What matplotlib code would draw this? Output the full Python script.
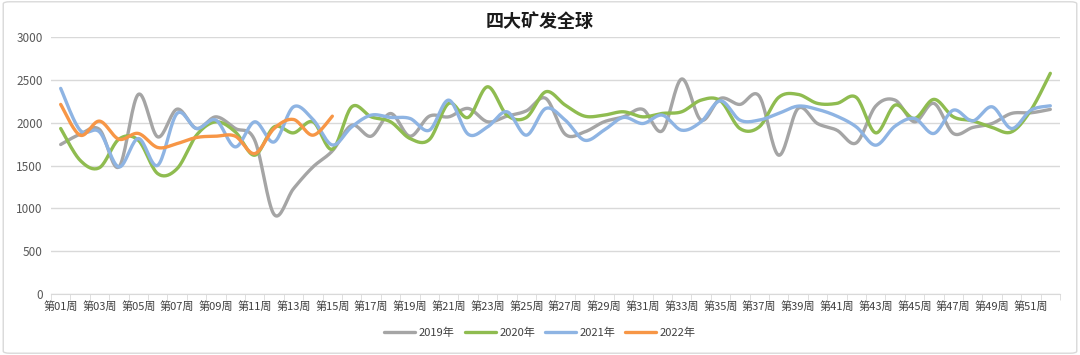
import numpy as np
import matplotlib
matplotlib.use('Agg')
import matplotlib.pyplot as plt
from matplotlib.patches import FancyBboxPatch

plt.rcParams['font.family'] = ['Noto Sans CJK SC', 'DejaVu Sans']

# --- data (weekly values) ---
weeks = [f'第{i:02d}周' for i in range(1, 53)]
series_names = ['2019年', '2020年', '2021年', '2022年']

v2019 = [1745, 1865, 1920, 1483, 2330, 1834, 2158, 1932, 2068, 1932,
         1795, 928, 1230, 1483, 1670, 1970, 1842, 2107, 1842, 2076,
         2068, 2166, 2010, 2076, 2138, 2283, 1865, 1892, 2010, 2068,
         2155, 1904, 2510, 2030, 2283, 2213, 2310, 1620, 2166, 1990,
         1912, 1764, 2193, 2263, 2010, 2225, 1874, 1944, 1990, 2108,
         2115, 2155]
v2020 = [1932, 1561, 1475, 1807, 1795, 1405, 1463, 1854, 2010, 1892,
         1620, 1951, 1881, 2010, 1690, 2185, 2068, 2010, 1815, 1803,
         2225, 2061, 2419, 2088, 2061, 2361, 2205, 2076, 2088, 2127,
         2068, 2108, 2127, 2263, 2255, 1932, 1951, 2295, 2330, 2225,
         2225, 2295, 1881, 2205, 2049, 2272, 2068, 2021, 1944, 1892,
         2146, 2576]
v2021 = [2400, 1912, 1892, 1483, 1815, 1502, 2108, 1932, 2030, 1717,
         2010, 1775, 2185, 2037, 1740, 1951, 2088, 2061, 2049, 1912,
         2263, 1865, 1951, 2127, 1854, 2166, 2030, 1795, 1912, 2061,
         1990, 2088, 1912, 2010, 2255, 2030, 2030, 2108, 2193, 2155,
         2076, 1951, 1737, 1960, 2049, 1874, 2146, 2021, 2185, 1932,
         2146, 2197]
v2022 = [2213, 1854, 2018, 1807, 1874, 1710, 1756, 1827, 1842, 1842,
         1639, 1932, 2037, 1854, 2076]

colors = ['#a5a5a5', '#8fbc50', '#8eb4e3', '#f79646']


def smooth(xs, ys, n=20):
    """Catmull-Rom style bezier smoothing, like Excel's smoothed lines."""
    p = np.column_stack([xs, ys]).astype(float)
    p_ext = np.vstack([p[0], p, p[-1]])
    out = []
    t = np.linspace(0, 1, n)[:, None]
    for i in range(len(p) - 1):
        p0, p3 = p_ext[i + 1], p_ext[i + 2]
        c1 = p0 + (p_ext[i + 2] - p_ext[i]) / 6
        c2 = p3 - (p_ext[i + 3] - p_ext[i + 1]) / 6
        seg = ((1 - t) ** 3) * p0 + 3 * ((1 - t) ** 2) * t * c1 + 3 * (1 - t) * t ** 2 * c2 + t ** 3 * p3
        out.append(seg if i == 0 else seg[1:])
    out = np.vstack(out)
    return out[:, 0], out[:, 1]


fig = plt.figure(figsize=(10.8, 3.55), dpi=100)
ax = fig.add_axes([0.0472, 0.1718, 0.9343, 0.724])

for name, vals, c in zip(series_names, [v2019, v2020, v2021, v2022], colors):
    x = np.arange(1, len(vals) + 1)
    sx, sy = smooth(x, vals)
    ax.plot(sx, sy, color=c, lw=2.4, label=name, solid_capstyle='round')

ax.set_xlim(0.5, 52.5)
ax.set_ylim(0, 3000)
ax.set_yticks(np.arange(0, 3001, 500))
ax.yaxis.grid(True, color='#d9d9d9', lw=1)
ax.set_axisbelow(True)
ax.tick_params(axis='y', length=0, labelsize=8.5, labelcolor='#595959', pad=6)

ax.set_xticks(np.arange(1, 53, 2))
ax.set_xticklabels(weeks[::2])
ax.set_xticks(np.arange(0.5, 53, 1), minor=True)
ax.tick_params(axis='x', which='major', length=0, labelsize=8, labelcolor='#404040', pad=5)
ax.tick_params(axis='x', which='minor', length=4, color='#d9d9d9')

for s in ['top', 'right', 'left']:
    ax.spines[s].set_visible(False)
ax.spines['bottom'].set_color('#d9d9d9')

fig.text(0.5, 0.94, '四大矿发全球', ha='center', va='center', fontsize=13,
         fontweight='bold', color='#1a1a1a')

fig.legend(loc='center', bbox_to_anchor=(0.5, 1 - 333 / 355), ncol=4, frameon=False,
           fontsize=8, handlelength=2.8, columnspacing=0.9, handletextpad=0.3,
           labelcolor='#404040')

fig.patches.append(FancyBboxPatch((0.003, 0.005), 0.994, 0.99, boxstyle='round,pad=0,rounding_size=0.006',
                                  transform=fig.transFigure, fill=False, ec='#d9d9d9', lw=1))

fig.savefig('out.png', dpi=100)
